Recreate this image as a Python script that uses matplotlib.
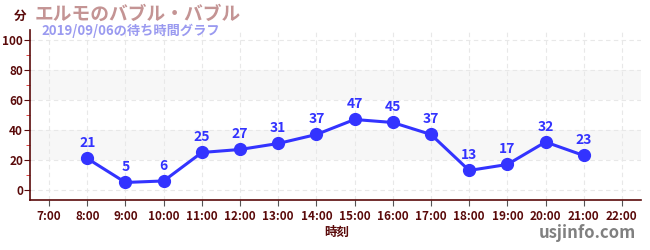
import matplotlib
matplotlib.use("Agg")
import matplotlib.pyplot as plt
from matplotlib.ticker import MultipleLocator

plt.rcParams['font.family'] = ['Noto Sans CJK JP', 'DejaVu Sans']

hours = [8, 9, 10, 11, 12, 13, 14, 15, 16, 17, 18, 19, 20, 21]
waits = [21, 5, 6, 25, 27, 31, 37, 47, 45, 37, 13, 17, 32, 23]
tick_hours = list(range(7, 23))
tick_labels = [f"{h}:00" for h in tick_hours]
title = "エルモのバブル・バブル"
subtitle = "2019/09/06の待ち時間グラフ"

dark = "#5a0a0a"
blue = "#3333ff"

fig = plt.figure(figsize=(6.5, 2.5), dpi=100)
ax = fig.add_axes([30/650, 50/250, 611/650, 170/250])

ax.set_xlim(6.5, 22.5)
ax.set_ylim(-6.7, 106.7)

for lo, hi in [(20, 40), (60, 80)]:
    ax.axhspan(lo, hi, color="#f7f7f7", zorder=0, lw=0)

ax.set_xticks(tick_hours)
ax.set_xticklabels(tick_labels)
ax.set_yticks(range(0, 101, 20))
ax.yaxis.set_minor_locator(MultipleLocator(10))
ax.grid(True, which='major', color="#e8e8e8", linestyle=(0, (4, 3)), lw=0.8, zorder=0.5)

ax.plot(hours, waits, color=blue, lw=2.2, marker='o', markersize=8.5, zorder=3)
for h, w in zip(hours, waits):
    ax.annotate(str(w), (h, w), xytext=(0, 6), textcoords='offset points',
                ha='center', va='bottom', color=blue, fontsize=10, fontweight='bold')

for s in ['top', 'right']:
    ax.spines[s].set_visible(False)
ax.spines['left'].set_color(dark)
ax.spines['bottom'].set_color(dark)
ax.spines['left'].set_linewidth(1.2)
ax.spines['bottom'].set_linewidth(1.2)

ax.tick_params(axis='x', colors="#555555", length=4, labelsize=8.5, labelcolor=dark, pad=3)
ax.tick_params(axis='y', which='major', colors=dark, length=4, labelsize=8.5, labelcolor=dark, pad=1)
ax.tick_params(axis='y', which='minor', colors="#dd2222", length=3)
for lab in ax.get_xticklabels() + ax.get_yticklabels():
    lab.set_fontweight('bold')

fig.text(337/650, 1 - 232/250, "時刻", ha='center', va='center', color=dark, fontsize=9, fontweight='bold')
fig.text(20/650, 1 - 16/250, "分", ha='center', va='center', color=dark, fontsize=9, fontweight='bold')
fig.text(35/650, 1 - 14/250, title, ha='left', va='center', color="#c49494", fontsize=13.5, fontweight='bold')
fig.text(41/650, 1 - 31/250, subtitle, ha='left', va='center', color="#9a9af0", fontsize=9.5, fontweight='bold')
fig.text(636/650, 1 - 233/250, "usjinfo.com", ha='right', va='center', color="#808080", fontsize=12, fontweight='bold')

fig.savefig("out.png", dpi=100)
